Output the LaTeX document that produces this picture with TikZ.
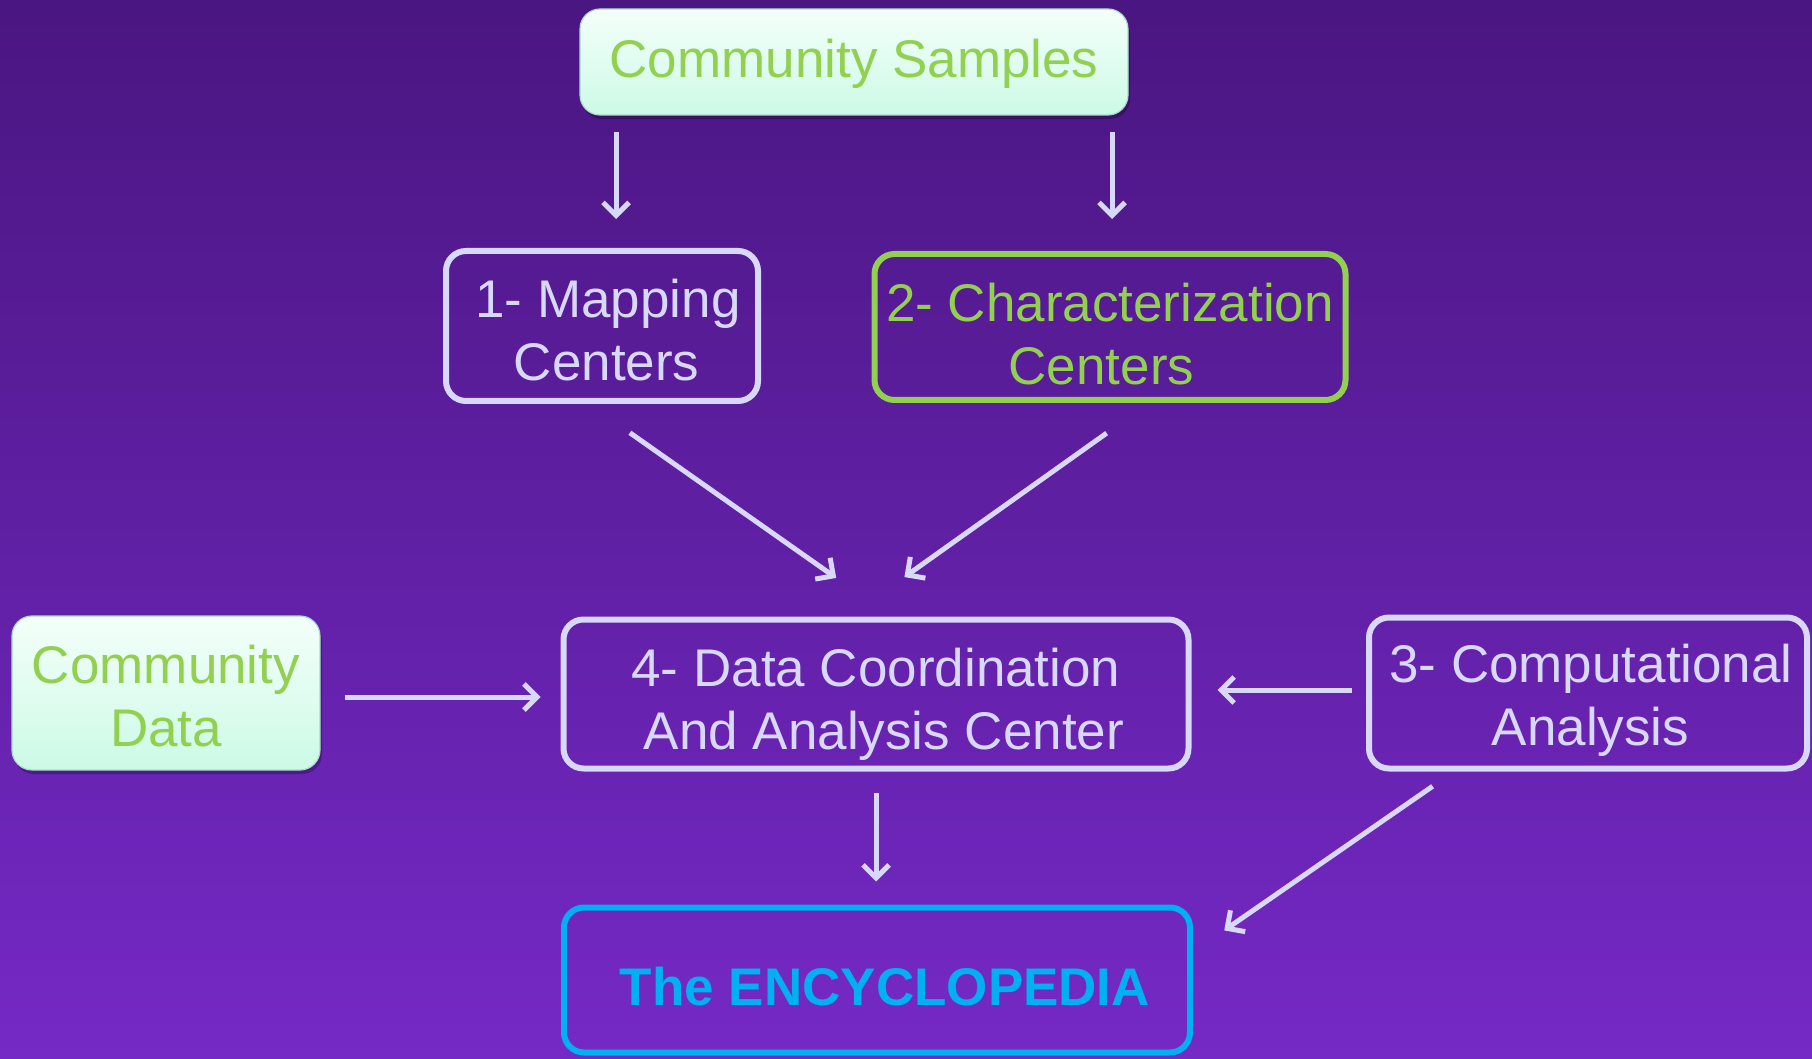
\documentclass[tikz,border=0pt]{standalone}
\usepackage{fontspec}
\setmainfont{Liberation Sans}
\usepackage{tikz}
\usetikzlibrary{arrows.meta,positioning,calc,shadows}
\definecolor{bgtop}{HTML}{4A1681}
\definecolor{bgbottom}{HTML}{7529C6}
\definecolor{linelav}{HTML}{D8D8F8}
\definecolor{textgreen}{HTML}{92D050}
\definecolor{encycyan}{HTML}{00B0F0}
\definecolor{mintlight}{HTML}{F4FFFA}
\definecolor{mintdark}{HTML}{CCFAE6}
\definecolor{mintedge}{HTML}{A6DCCB}
% text lines of a box, moved down by #1
\newcommand{\boxlines}[2]{\raisebox{-#1}[\height][\depth]{\begin{tabular}{@{}c@{}}#2\end{tabular}}}
\tikzset{
  boxfont/.style={font=\fontsize{26.5}{31.5}\selectfont},
  lightbox/.style={boxfont, rounded corners=10pt, draw=mintedge, line width=0.6pt,
    top color=mintlight, bottom color=mintdark, text=textgreen, inner sep=0pt,
    drop shadow={shadow xshift=1pt, shadow yshift=-2pt, opacity=0.25, fill=black}},
  outlinebox/.style={boxfont, rounded corners=10pt, draw=linelav, line width=3pt,
    text=linelav, inner sep=0pt},
  flow/.style={draw=linelav, line width=2.5pt, -{Straight Barb[length=6.5pt,width=13pt]}},
}

\begin{document}
\begin{tikzpicture}[x=0.5pt, y=-0.5pt]
\shade[top color=bgtop, bottom color=bgbottom] (0,0) rectangle (1812,1059);
\useasboundingbox (0,0) rectangle (1812,1059);
% boxes
\node[lightbox, minimum width=274pt, minimum height=53pt] (samples) at (854,62)
  {\boxlines{1.6pt}{Community Samples}};
\node[outlinebox, minimum width=156pt, minimum height=75pt] (mapping) at (602,326)
  {\boxlines{5pt}{\hspace*{6pt}1- Mapping\\\hspace*{4.6pt}Centers}};
\node[outlinebox, draw=textgreen, text=textgreen, minimum width=235.5pt, minimum height=73pt] (charac) at (1110,327)
  {\boxlines{6.5pt}{2- Characterization\\Centers\hspace*{8.5pt}}};
\node[lightbox, minimum width=154pt, minimum height=77pt] (commdata) at (166,693)
  {\boxlines{4.5pt}{Community\\Data}};
\node[outlinebox, minimum width=312.5pt, minimum height=74.5pt] (dcac) at (876,694)
  {\boxlines{5.75pt}{4- Data Coordination\\\hspace*{8pt}And Analysis Center}};
\node[outlinebox, minimum width=219pt, minimum height=75.5pt] (comp) at (1588,693)
  {\boxlines{4.25pt}{\hspace*{3pt}3- Computational\\\hspace*{2.5pt}Analysis}};
\node[outlinebox, draw=encycyan, text=encycyan, font=\fontsize{26.5}{31.5}\selectfont\bfseries,
  minimum width=313pt, minimum height=72.5pt] (ency) at (877,980)
  {\boxlines{6.6pt}{\hspace*{8pt}The ENCYCLOPEDIA}};
% connectors
\draw[flow, shorten <=8pt, shorten >=14.5pt] ([xshift=7pt]samples.south -| mapping.north) -- ([xshift=7pt]mapping.north);
\draw[flow, shorten <=8pt, shorten >=16pt] ([xshift=1pt]samples.south -| charac.north) -- ([xshift=1pt]charac.north);
\draw[flow, shorten <=25pt, shorten >=33.5pt] ([xshift=-6.5pt]mapping.south) -- ([xshift=7.5pt]dcac.north);
\draw[flow, shorten <=26pt, shorten >=34pt] ([xshift=19.5pt]charac.south) -- ([xshift=-13.5pt]dcac.north);
\draw[flow, shorten <=12pt, shorten >=10pt] ([yshift=-2pt]commdata.east) -- ([yshift=-2pt]commdata.east -| dcac.west);
\draw[flow, shorten <=7pt, shorten >=13pt] ([yshift=1.5pt]comp.west) -- ([yshift=1.5pt]comp.west -| dcac.east);
\draw[flow, shorten <=10.5pt, shorten >=11.5pt] (dcac.south) -- (dcac.south |- ency.north);
\draw[flow, shorten <=13pt, shorten >=19pt] ([xshift=-67pt]comp.south) -- ([yshift=14pt]ency.east);
\end{tikzpicture}
\end{document}
